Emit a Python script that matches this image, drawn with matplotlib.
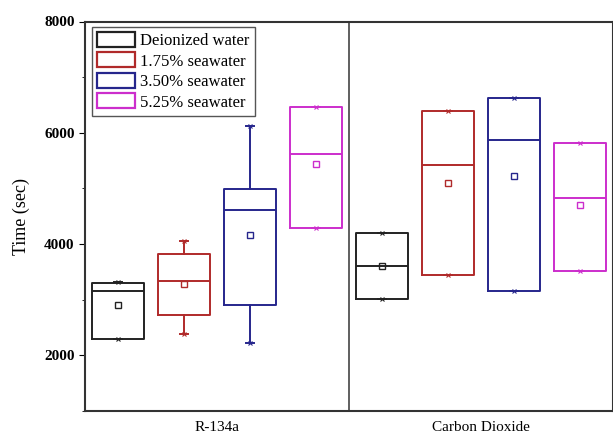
import matplotlib
matplotlib.use("Agg")
import matplotlib.pyplot as plt
from matplotlib.patches import Patch
from matplotlib.ticker import MultipleLocator

plt.rcParams['font.family'] = ['Liberation Serif', 'DejaVu Serif']

groups = ["R-134a", "Carbon Dioxide"]
series = ["Deionized water", "1.75% seawater", "3.50% seawater", "5.25% seawater"]
colors = ["#222222", "#b02a2a", "#26268c", "#cc2ecc"]

# per group, per series: (whislo, q1, median, q3, whishi, mean)
q1 = [[2300, 2730, 2910, 4290], [3010, 3450, 3150, 3510]]
med = [[3160, 3345, 4610, 5610], [3600, 5430, 5870, 4830]]
q3 = [[3300, 3830, 4990, 6455], [4205, 6390, 6625, 5815]]
wlo = [[2300, 2390, 2220, 4290], [3010, 3450, 3150, 3510]]
whi = [[3310, 4055, 6130, 6455], [4205, 6390, 6625, 5815]]
mean = [[2905, 3280, 4160, 5440], [3610, 5095, 5215, 4710]]

fig = plt.figure(figsize=(6.13, 4.38), dpi=100)
ax = fig.add_axes([85/613, 27/438, 528/613, 389.5/438])

for g in range(2):
    for s in range(4):
        pos = g * 4 + s + 1
        st = dict(whislo=wlo[g][s], q1=q1[g][s], med=med[g][s], q3=q3[g][s],
                  whishi=whi[g][s], mean=mean[g][s], fliers=[])
        c = colors[s]
        ax.bxp([st], positions=[pos], widths=0.8, showmeans=True, showcaps=True,
               capwidths=[0.12],
               boxprops=dict(color=c, linewidth=1.4),
               medianprops=dict(color=c, linewidth=1.4),
               whiskerprops=dict(color=c, linewidth=1.4),
               capprops=dict(color=c, linewidth=1.4),
               meanprops=dict(marker='s', markerfacecolor='none', markeredgecolor=c,
                              markersize=4, markeredgewidth=1.0),
               manage_ticks=False)
        ax.plot([pos, pos], [wlo[g][s], whi[g][s]], linestyle='none', marker='x',
                color=c, markersize=3.5, markeredgewidth=0.8)

ax.axvline(4.5, color='#444444', linewidth=1.2)
ax.set_xlim(0.5, 8.5)
ax.set_ylim(1000, 8000)
ax.set_xticks([2.5, 6.5])
ax.set_xticklabels(groups, fontsize=11)
ax.tick_params(axis='x', length=0, pad=7)
ax.yaxis.set_major_locator(MultipleLocator(2000))
ax.yaxis.set_minor_locator(MultipleLocator(1000))
ax.tick_params(axis='y', which='major', direction='out', length=4, labelsize=11)
ax.tick_params(axis='y', which='minor', direction='out', length=2.5)
for lbl in ax.get_yticklabels():
    lbl.set_fontweight('bold')
ax.set_ylabel("Time (sec)", fontsize=13, labelpad=10)
for sp in ax.spines.values():
    sp.set_linewidth(1.5)
    sp.set_color('#333333')

handles = [Patch(facecolor='none', edgecolor=c, linewidth=1.6) for c in colors]
leg = ax.legend(handles, series, loc='upper left', bbox_to_anchor=(0.013, 0.986),
                borderaxespad=0, fontsize=12, handlelength=2.3, handleheight=1.0,
                handletextpad=0.3, labelspacing=0.2, borderpad=0.3,
                fancybox=False, framealpha=1)
leg.get_frame().set_edgecolor('#555555')
leg.get_frame().set_linewidth(1.0)

fig.savefig("out.png", dpi=100)
